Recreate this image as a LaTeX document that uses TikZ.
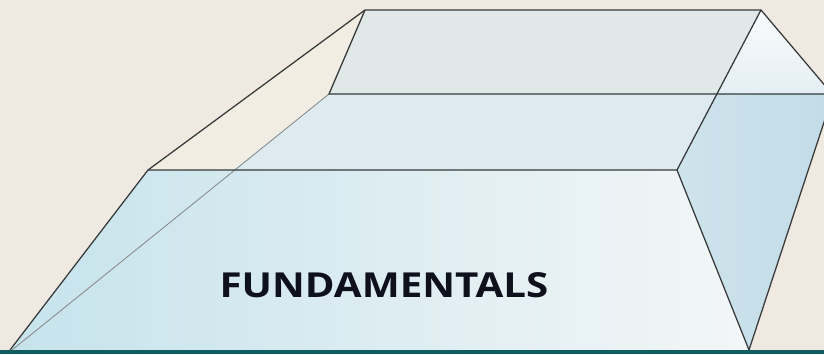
\documentclass[tikz,border=0pt]{standalone}
\usepackage{fontspec}
\setmainfont{Open Sans}
\usepackage{xcolor}
\definecolor{bgbeige}{RGB}{240,233,226}
\definecolor{wedgebeige}{RGB}{242,237,226}
\definecolor{backgray}{RGB}{225,232,232}
\definecolor{bandblue}{RGB}{221,234,240}
\definecolor{sideblue}{RGB}{194,220,231}
\definecolor{frontblue}{RGB}{198,227,236}
\definecolor{frontwhite}{RGB}{243,246,247}
\definecolor{edgegray}{RGB}{55,58,58}
\definecolor{baseteal}{RGB}{16,94,98}
\definecolor{labelink}{RGB}{14,16,28}
\usepackage{tikz}
\usetikzlibrary{positioning}

\begin{document}
\begin{tikzpicture}
  \useasboundingbox (0,0) rectangle (20.6,8.85);
  \clip (0,0) rectangle (20.6,8.85);
  \fill[bgbeige] (0,0) rectangle (20.6,8.85);

  % Left wedge
  \fill[wedgebeige] (3.7,4.6) -- (9.125,8.6) -- (8.225,6.5) -- (5.825,4.6) -- cycle;

  % Back top face
  \fill[backgray] (9.125,8.6) -- (19.025,8.6) -- (17.925,6.5) -- (8.225,6.5) -- cycle;

  % Top right corner
  \shade[top color=white!85!bandblue, bottom color=bandblue!80!white]
    (19.025,8.6) -- (20.825,6.5) -- (17.925,6.5) -- cycle;

  % Middle band
  \fill[bandblue] (8.225,6.5) -- (17.925,6.5) -- (16.925,4.6) -- (5.825,4.6) -- cycle;

  % Right side face
  \shade[left color=sideblue!80!white, right color=sideblue]
    (17.925,6.5) -- (20.825,6.5) -- (18.725,0.1) -- (16.925,4.6) -- cycle;

  % Front face
  \shade[left color=frontblue, right color=frontwhite]
    (3.7,4.6) -- (16.925,4.6) -- (18.725,0.1) -- (0.25,0.1) -- cycle;

  % Inner edge
  \draw[edgegray!60, line width=0.6pt] (8.225,6.5) -- (0.3,0.1);

  % Outline edges
  \draw[edgegray, line width=0.9pt, line join=round]
    (0.25,0.1) -- (3.7,4.6) -- (9.125,8.6) -- (19.025,8.6) -- (20.825,6.475) -- (18.725,0.1);
  \draw[edgegray, line width=0.9pt] (3.7,4.6) -- (16.925,4.6) -- (18.725,0.1);
  \draw[edgegray, line width=0.9pt] (9.125,8.6) -- (8.225,6.5) -- (20.825,6.5);
  \draw[edgegray, line width=0.9pt] (19.025,8.6) -- (16.925,4.6);

  % Base bar
  \fill[baseteal] (0,0) rectangle (20.6,0.1);

  % Label
  \node[font=\fontsize{24.5}{28}\selectfont\bfseries, text=labelink] (title) at (9.6,1.71)
       {\scalebox{1.17}[1]{FUNDAMENTALS}};
\end{tikzpicture}
\end{document}
